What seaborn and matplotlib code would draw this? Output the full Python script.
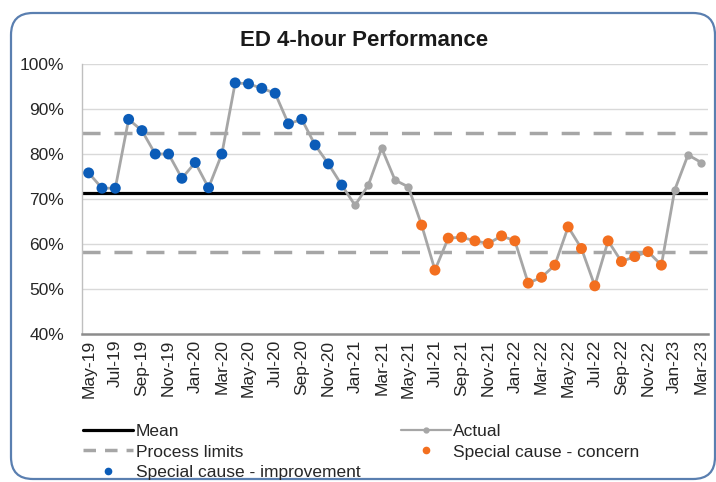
import matplotlib
matplotlib.use("Agg")
import matplotlib.pyplot as plt
from matplotlib.lines import Line2D
from matplotlib.patches import FancyBboxPatch
from matplotlib.ticker import PercentFormatter
import numpy as np
import pandas as pd
import seaborn as sns

# Monthly ED 4-hour performance, May 2019 to March 2023
months = list(pd.date_range("2019-05-01", periods=47, freq="MS").strftime("%b-%y"))
performance = [
    75.8, 72.4, 72.4, 87.7, 85.2, 80.0, 80.0, 74.6, 78.1, 72.5,
    80.0, 95.8, 95.6, 94.6, 93.5, 86.7, 87.7, 82.0, 77.8, 73.1,
    68.6, 73.1, 81.3, 74.2, 72.7,
    64.2, 54.2, 61.3, 61.5, 60.7, 60.1, 61.8, 60.7, 51.3, 52.6,
    55.3, 63.8, 59.0, 50.7, 60.7, 56.1, 57.2, 58.3, 55.3,
    72.0, 79.8, 78.1,
]
signal = (["improvement"] * 20 + ["common"] * 5 + ["concern"] * 19 + ["common"] * 3)
mean_value = 71.3
upper_limit = 84.6
lower_limit = 58.3
y_ticks = [40, 50, 60, 70, 80, 90, 100]

BLUE = "#0b5cb8"
ORANGE = "#f36f1f"
GREY = "#a6a6a6"

df = pd.DataFrame({"idx": np.arange(len(months)), "month": months,
                   "value": performance, "signal": signal})

sns.set_theme(style="white")
plt.rcParams["font.family"] = ["Liberation Sans", "DejaVu Sans"]

fig = plt.figure(figsize=(7.16, 4.82), dpi=100)
ax = fig.add_axes([82 / 716, 1 - 334 / 482, (708 - 82) / 716, (334 - 64) / 482])

# rounded chart frame
frame = FancyBboxPatch((0.11, 0.03), 7.04, 4.66,
                       boxstyle="round,pad=0,rounding_size=0.22",
                       transform=fig.dpi_scale_trans, fill=False,
                       edgecolor="#5a7fb0", linewidth=1.6, zorder=0)
fig.patches.append(frame)

for t in y_ticks[1:]:
    ax.axhline(t, color="#d9d9d9", lw=1.0, zorder=0)

ax.axhline(upper_limit, color=GREY, lw=2.5, dashes=(5.2, 4.0), zorder=1)
ax.axhline(lower_limit, color=GREY, lw=2.5, dashes=(5.2, 4.0), zorder=1)
ax.axhline(mean_value, color="black", lw=2.3, zorder=2)

sns.lineplot(data=df, x="idx", y="value", ax=ax, color=GREY, lw=2.0,
             marker="o", markersize=6, markeredgewidth=0, zorder=3)
sns.scatterplot(data=df[df.signal != "common"], x="idx", y="value", hue="signal",
                palette={"improvement": BLUE, "concern": ORANGE}, s=62,
                linewidth=0, ax=ax, zorder=4, legend=False)

ax.set_xlim(-0.5, len(months) - 0.5)
ax.set_ylim(40, 100)
ax.set_yticks(y_ticks)
ax.yaxis.set_major_formatter(PercentFormatter(decimals=0))
ax.set_xticks(df.idx[::2])
ax.set_xticklabels(df.month[::2], rotation=90)
ax.set_xlabel("")
ax.set_ylabel("")
ax.tick_params(axis="y", length=0, pad=13, labelsize=12.5, labelcolor="#262626")
ax.tick_params(axis="x", length=0, pad=4, labelsize=12.5, labelcolor="#262626")

for side in ["top", "right"]:
    ax.spines[side].set_visible(False)
ax.spines["left"].set_color("#bfbfbf")
ax.spines["left"].set_linewidth(1.0)
ax.spines["bottom"].set_color("#8c8c8c")
ax.spines["bottom"].set_linewidth(1.8)

fig.text(0.508, 0.915, "ED 4-hour Performance", ha="center", va="center",
         fontsize=16, fontweight="bold", color="#1a1a1a")

handles = [
    Line2D([], [], color="black", lw=2.3),
    Line2D([], [], color=GREY, lw=2.5, dashes=(3.6, 2.6)),
    Line2D([], [], ls="none", marker="o", color=BLUE, markersize=4.5),
    Line2D([], [], color=GREY, lw=1.6, marker="o", markersize=3.5),
    Line2D([], [], ls="none", marker="o", color=ORANGE, markersize=4.5),
]
labels = ["Mean", "Process limits", "Special cause - improvement",
          "Actual", "Special cause - concern"]
fig.legend(handles, labels, ncol=2, loc="upper left",
           bbox_to_anchor=(83 / 716, 1 - 424 / 482), frameon=False,
           fontsize=12.5, handlelength=2.9, handletextpad=0.15,
           columnspacing=2.3, labelspacing=0.3, borderpad=0,
           borderaxespad=0, labelcolor="#262626")

fig.savefig("out.png", dpi=100)
